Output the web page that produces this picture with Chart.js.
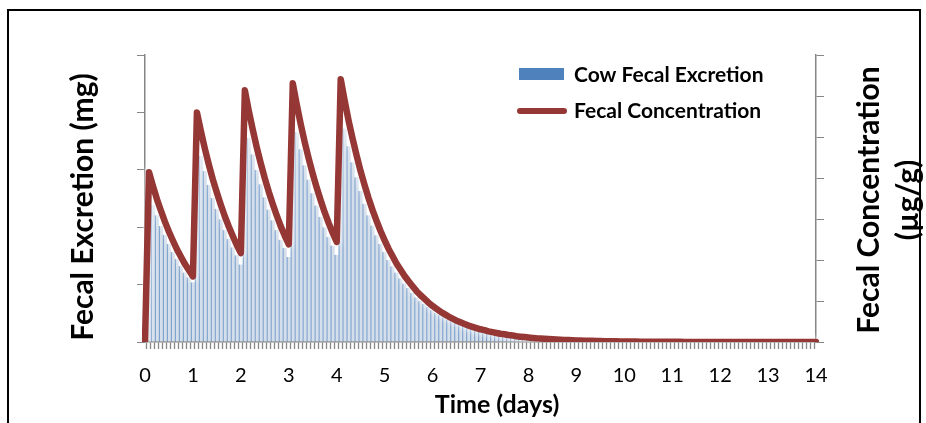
<!DOCTYPE html>
<html>
<head>
<meta charset="utf-8">
<script src="https://cdn.jsdelivr.net/npm/chart.js@4.4.1/dist/chart.umd.min.js"></script>
<style>
  html, body { margin: 0; padding: 0; background: #fff; }
  #wrap { position: relative; width: 926px; height: 423px; overflow: hidden; }
  #frame { position: absolute; left: 7px; top: 9px; width: 910px; height: 430px; border: 2px solid #000; border-bottom: none; pointer-events: none; }
</style>
</head>
<body>
<div id="wrap">
  <canvas id="chart" width="926" height="423"></canvas>
  <div id="frame"></div>
</div>
<script>
// time points, hours (one bar every 2 h)
const hours = [
  0, 2, 4, 6, 8, 10, 12, 14, 16, 18, 20, 22, 24, 26, 28, 30, 32, 34, 36, 38, 40, 42, 44, 46,
  48, 50, 52, 54, 56, 58, 60, 62, 64, 66, 68, 70, 72, 74, 76, 78, 80, 82, 84, 86, 88, 90, 92, 94,
  96, 98, 100, 102, 104, 106, 108, 110, 112, 114, 116, 118, 120, 122, 124, 126, 128, 130, 132, 134, 136, 138, 140, 142,
  144, 146, 148, 150, 152, 154, 156, 158, 160, 162, 164, 166, 168, 170, 172, 174, 176, 178, 180, 182, 184, 186, 188, 190,
  192, 194, 196, 198, 200, 202, 204, 206, 208, 210, 212, 214, 216, 218, 220, 222, 224, 226, 228, 230, 232, 234, 236, 238,
  240, 242, 244, 246, 248, 250, 252, 254, 256, 258, 260, 262, 264, 266, 268, 270, 272, 274, 276, 278, 280, 282, 284, 286,
  288, 290, 292, 294, 296, 298, 300, 302, 304, 306, 308, 310, 312, 314, 316, 318, 320, 322, 324, 326, 328, 330, 332, 334,
  336
];

const dayLabels = ['0', '1', '2', '3', '4', '5', '6', '7', '8', '9', '10', '11', '12', '13', '14'];

// cow fecal excretion (left axis, no units shown)
const excretion = [
  0, 2.62, 2.39, 2.21, 2.02, 1.87, 1.71, 1.57, 1.45, 1.33, 1.21, 1.13, 1.04,
  3.54, 3.24, 2.98, 2.74, 2.51, 2.32, 2.14, 1.95, 1.80, 1.65, 1.51, 1.35,
  3.88, 3.56, 3.27, 3.00, 2.75, 2.52, 2.31, 2.12, 1.95, 1.78, 1.64, 1.48,
  3.99, 3.66, 3.36, 3.08, 2.83, 2.59, 2.38, 2.18, 2.00, 1.83, 1.68, 1.52,
  4.05, 3.72, 3.41, 3.13, 2.87, 2.63, 2.41, 2.21, 2.03, 1.86, 1.71, 1.57,
  1.43, 1.32, 1.21, 1.11, 1.02, 0.94, 0.86, 0.78, 0.72, 0.66, 0.61, 0.56,
  0.51, 0.47, 0.43, 0.39, 0.36, 0.33, 0.30, 0.28, 0.25, 0.23, 0.21, 0.20,
  0.18, 0.16, 0.15, 0.14, 0.13, 0.12, 0.11, 0.10, 0.09, 0.08, 0.076, 0.070,
  0.063, 0.057, 0.054, 0.049, 0.045, 0.042, 0.038, 0.035, 0.032, 0.030, 0.027, 0.025,
  0.023, 0.021, 0.019, 0.018, 0.016, 0.015, 0.013, 0.012, 0.011, 0.010, 0.009, 0.008,
  0.008, 0.007, 0.006, 0.006, 0.005, 0.005, 0.004, 0.004, 0.004, 0.003, 0.003, 0.003,
  0.002, 0.002, 0.002, 0.002, 0.002, 0.001, 0.001, 0.001, 0.001, 0.001, 0.001, 0.001,
  0, 0, 0, 0, 0, 0, 0, 0, 0, 0, 0, 0,
  0, 0, 0, 0, 0, 0, 0, 0, 0, 0, 0, 0
];

// fecal concentration (right axis)
const concentration = [
  0, 4.14, 3.80, 3.48, 3.20, 2.93, 2.69, 2.47, 2.26, 2.08, 1.90, 1.75, 1.60,
  5.60, 5.14, 4.71, 4.32, 3.96, 3.64, 3.34, 3.06, 2.81, 2.58, 2.36, 2.17,
  6.14, 5.63, 5.17, 4.74, 4.35, 3.99, 3.66, 3.36, 3.08, 2.82, 2.59, 2.38,
  6.31, 5.79, 5.31, 4.87, 4.47, 4.10, 3.76, 3.45, 3.16, 2.90, 2.66, 2.44,
  6.41, 5.88, 5.39, 4.95, 4.54, 4.16, 3.82, 3.50, 3.21, 2.95, 2.70, 2.48,
  2.27, 2.09, 1.91, 1.76, 1.61, 1.48, 1.36, 1.24, 1.14, 1.05, 0.96, 0.88,
  0.81, 0.74, 0.68, 0.62, 0.57, 0.52, 0.48, 0.44, 0.40, 0.37, 0.34, 0.31,
  0.29, 0.26, 0.24, 0.22, 0.20, 0.19, 0.17, 0.16, 0.14, 0.13, 0.12, 0.11,
  0.10, 0.09, 0.085, 0.078, 0.072, 0.066, 0.060, 0.056, 0.051, 0.047, 0.043, 0.039,
  0.036, 0.033, 0.030, 0.028, 0.025, 0.023, 0.021, 0.019, 0.018, 0.016, 0.015, 0.013,
  0.012, 0.011, 0.010, 0.009, 0.008, 0.008, 0.007, 0.006, 0.006, 0.005, 0.005, 0.004,
  0.004, 0.004, 0.003, 0.003, 0.003, 0.002, 0.002, 0.002, 0.002, 0.002, 0.001, 0.001,
  0.001, 0.001, 0.001, 0.001, 0.001, 0.001, 0.001, 0.001, 0.001, 0.001, 0.001, 0.001,
  0, 0, 0, 0, 0, 0, 0, 0, 0, 0, 0, 0
];

const xTitle = 'Time (days)';
const leftTitle = 'Fecal Excretion (mg)';
const rightTitle = ['Fecal Concentration', '(µg/g)'];

const FONT = 'Lato, "Open Sans", sans-serif';
const AXIS_GRAY = '#868686';

// titles + legend drawn by hand (Excel-style placement)
const decor = {
  id: 'decor',
  beforeDatasetDraw(chart, args) {
    if (args.meta.type === 'line') {
      chart.ctx.save();
      chart.ctx.shadowColor = 'rgba(255,255,255,0.95)';
      chart.ctx.shadowBlur = 6;
    }
  },
  afterDatasetDraw(chart, args) {
    if (args.meta.type === 'line') chart.ctx.restore();
  },
  afterDraw(chart) {
    const ctx = chart.ctx;
    ctx.save();
    ctx.fillStyle = '#000';
    ctx.textAlign = 'center';
    ctx.textBaseline = 'middle';

    ctx.font = 'bold 30px ' + FONT;
    ctx.translate(83, 207);
    ctx.rotate(-Math.PI / 2);
    ctx.fillText(leftTitle, 0, 0);
    ctx.setTransform(1, 0, 0, 1, 0, 0);

    ctx.translate(869, 200);
    ctx.rotate(-Math.PI / 2);
    ctx.fillText(rightTitle[0], 0, 0);
    ctx.fillText(rightTitle[1], 0, 39);
    ctx.setTransform(1, 0, 0, 1, 0, 0);

    ctx.font = 'bold 25px ' + FONT;
    ctx.fillText(xTitle, 497, 405);

    // legend
    const ds = chart.data.datasets;
    ctx.textAlign = 'left';
    ctx.font = 'bold 21px ' + FONT;
    ctx.fillStyle = '#4f81bd';
    ctx.fillRect(519, 68, 45, 12);
    ctx.fillStyle = '#000';
    ctx.fillText(ds[0].label, 574, 75);

    ctx.strokeStyle = ds[1].borderColor;
    ctx.lineWidth = 6;
    ctx.lineCap = 'round';
    ctx.beginPath();
    ctx.moveTo(520, 111);
    ctx.lineTo(564, 111);
    ctx.stroke();
    ctx.fillText(ds[1].label, 574, 111);
    ctx.restore();
  }
};

new Chart(document.getElementById('chart'), {
  type: 'bar',
  data: {
    labels: hours,
    datasets: [
      {
        type: 'bar',
        label: 'Cow Fecal Excretion',
        data: excretion,
        yAxisID: 'y',
        order: 1,
        backgroundColor: '#d5dfeb',
        borderColor: '#4f81bd',
        borderWidth: { left: 1, right: 0, top: 0, bottom: 0 },
        borderSkipped: false,
        barPercentage: 1,
        categoryPercentage: 1
      },
      {
        type: 'line',
        label: 'Fecal Concentration',
        data: concentration,
        yAxisID: 'y1',
        order: 0,
        borderColor: '#953735',
        borderWidth: 6.5,
        borderJoinStyle: 'round',
        borderCapStyle: 'round',
        pointRadius: 0,
        tension: 0,
        fill: false
      }
    ]
  },
  options: {
    responsive: false,
    animation: false,
    events: [],
    layout: { padding: { left: 137, right: 102, top: 55, bottom: 20 } },
    plugins: { legend: { display: false }, tooltip: { enabled: false } },
    scales: {
      x: {
        type: 'category',
        offset: false,
        grid: { drawOnChartArea: false, drawTicks: true, tickLength: 7, color: AXIS_GRAY, tickWidth: 1.3 },
        border: { color: AXIS_GRAY, width: 1.5 },
        ticks: {
          autoSkip: false,
          maxRotation: 0,
          minRotation: 0,
          padding: 15,
          color: '#000',
          font: { family: FONT, size: 20 },
          callback: (v, i) => (i % 12 === 0 ? dayLabels[i / 12] : '')
        }
      },
      y: {
        position: 'left',
        min: 0,
        max: 5,
        grid: { drawOnChartArea: false, tickLength: 8, color: AXIS_GRAY },
        border: { color: AXIS_GRAY, width: 1.5 },
        ticks: { display: false, stepSize: 1 }
      },
      y1: {
        position: 'right',
        min: 0,
        max: 7,
        grid: { drawOnChartArea: false, tickLength: 8, color: AXIS_GRAY },
        border: { color: AXIS_GRAY, width: 1.5 },
        ticks: { display: false, stepSize: 1 }
      }
    }
  },
  plugins: [decor]
});
</script>
</body>
</html>
